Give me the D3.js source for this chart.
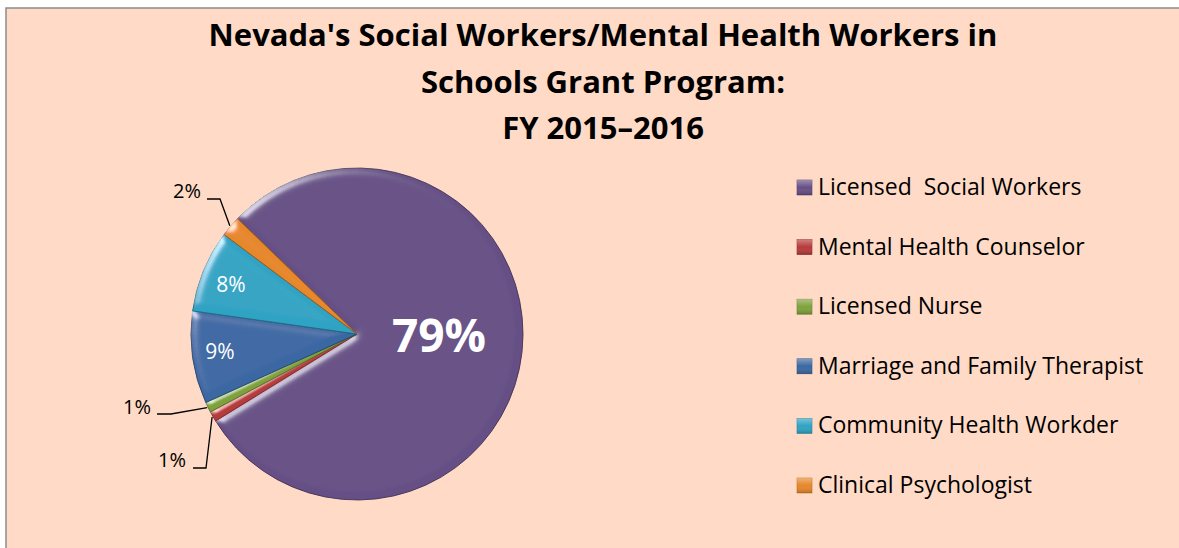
<!DOCTYPE html>
<html>
<head>
<meta charset="utf-8">
<script src="https://cdn.jsdelivr.net/npm/d3@7"></script>
<style>
  body { margin: 0; background: #fff; }
  svg { display: block; }
  text { font-family: "Open Sans", Lato, sans-serif; }
</style>
</head>
<body>
<svg id="viz" width="1179" height="548"></svg>
<script>
// chart data
const categories = ['Licensed  Social Workers', 'Mental Health Counselor', 'Licensed Nurse',
  'Marriage and Family Therapist', 'Community Health Workder', 'Clinical Psychologist']
const values = [79, 1, 1, 9, 8, 2]
const sliceColors = ['#664f85', '#b63a3a', '#7ea23b', '#3b67a2', '#2fa3c3', '#e6872a']
const titleLines = ["Nevada's Social Workers/Mental Health Workers in", 'Schools Grant Program:', 'FY 2015\u20132016']

const svg = d3.select('#viz')

// bevel filter, looks a bit like the office 3d edge
let defs = svg.append('defs')
let bev = defs.append('filter').attr('id', 'bevel').attr('x', '-5%').attr('y', '-5%').attr('width', '110%').attr('height', '110%')
bev.append('feGaussianBlur').attr('in', 'SourceAlpha').attr('stdDeviation', 4).attr('result', 'blur')
let spec = bev.append('feSpecularLighting').attr('in', 'blur').attr('surfaceScale', 3)
  .attr('specularConstant', 0.7).attr('specularExponent', 40).attr('lighting-color', '#ffffff').attr('result', 'spec')
spec.append('feDistantLight').attr('azimuth', 225).attr('elevation', 40)
bev.append('feComposite').attr('in', 'spec').attr('in2', 'SourceAlpha').attr('operator', 'in').attr('result', 'specIn')
bev.append('feComposite').attr('in', 'SourceGraphic').attr('in2', 'specIn')
  .attr('operator', 'arithmetic').attr('k1', 0).attr('k2', 1).attr('k3', 0.8).attr('k4', 0)

let legShade = defs.append('linearGradient').attr('id', 'legShade').attr('x1', 0).attr('y1', 0).attr('x2', 0).attr('y2', 1)
legShade.append('stop').attr('offset', '0%').attr('stop-color', '#fff').attr('stop-opacity', 0.35)
legShade.append('stop').attr('offset', '50%').attr('stop-color', '#fff').attr('stop-opacity', 0)
legShade.append('stop').attr('offset', '100%').attr('stop-color', '#000').attr('stop-opacity', 0.2)

// chart area background + border
svg.append('rect')
  .attr('x', 6).attr('y', 8).attr('width', 1190).attr('height', 560)
  .style('fill', '#ffdac6').style('stroke', '#8c8c8c').style('stroke-width', 1.5)

// title
let title = svg.append('text')
  .attr('text-anchor', 'middle')
  .style('font-size', '31px').style('font-weight', 'bold').style('fill', '#000')
title.selectAll('tspan')
  .data(titleLines)
  .enter()
  .append('tspan')
  .attr('x', 603)
  .attr('y', (d, i) => 46 + i * 46.5)
  .text(d => d)

// pie
const cx = 357, cy = 334, radius = 166
const color = d3.scaleOrdinal().domain(categories).range(sliceColors)
const startA = -46 * Math.PI / 180
const pie = d3.pie().sort(null).value(d => d.value)
  .startAngle(startA).endAngle(startA + 2 * Math.PI)
const arc = d3.arc().innerRadius(0).outerRadius(radius)

let data = categories.map((c, i) => ({ name: c, value: values[i] }))
let arcs = pie(data)

let pieGroup = svg.append('g').attr('transform', `translate(${cx},${cy})`)
pieGroup.selectAll('path.slice')
  .data(arcs)
  .enter()
  .append('path')
  .attr('class', 'slice')
  .attr('d', arc)
  .style('fill', d => color(d.data.name))
  .style('stroke', d => d3.color(color(d.data.name)).darker(1.2))
  .style('stroke-width', 0.9)
  .attr('filter', 'url(#bevel)')

// labels inside the slices (white)
const insideLabels = [
  { i: 0, x: 439, y: 352, size: 46, bold: true },
  { i: 3, x: 220, y: 359, size: 21, bold: false },
  { i: 4, x: 231, y: 292, size: 21, bold: false }
]
svg.selectAll('.inLabel')
  .data(insideLabels)
  .enter()
  .append('text')
  .attr('class', 'inLabel')
  .attr('x', d => d.x).attr('y', d => d.y)
  .attr('text-anchor', 'middle')
  .style('fill', '#fff')
  .style('font-size', d => d.size + 'px')
  .style('font-weight', d => d.bold ? 'bold' : 'normal')
  .text(d => values[d.i] + '%')

// small slices, labels outside with leader lines
const outsideLabels = [
  { i: 5, tx: 187, ty: 198, line: [[207, 199], [220, 199]] },
  { i: 2, tx: 137, ty: 414, line: [[157, 414], [171, 414]] },
  { i: 1, tx: 172, ty: 467, line: [[193, 468], [206, 468]] }
]
svg.selectAll('.outLabel')
  .data(outsideLabels)
  .enter()
  .append('text')
  .attr('class', 'outLabel')
  .attr('x', d => d.tx).attr('y', d => d.ty)
  .attr('text-anchor', 'middle')
  .style('font-size', '20px').style('fill', '#000')
  .text(d => values[d.i] + '%')

const rimArc = d3.arc().innerRadius(radius + 1).outerRadius(radius + 1)
svg.selectAll('.leader')
  .data(outsideLabels)
  .enter()
  .append('path')
  .attr('class', 'leader')
  .attr('d', d => {
    let p = rimArc.centroid(arcs[d.i])
    let pts = d.line.concat([[p[0] + cx, p[1] + cy]])
    return d3.line()(pts)
  })
  .style('fill', 'none').style('stroke', '#000').style('stroke-width', 1.3)

// legend
let legend = svg.append('g').attr('transform', 'translate(797,0)')
let items = legend.selectAll('g.item')
  .data(categories)
  .enter()
  .append('g')
  .attr('class', 'item')
  .attr('transform', (d, i) => `translate(0,${187 + i * 59.6})`)
items.append('rect')
  .attr('x', 0).attr('y', -7).attr('width', 15).attr('height', 15)
  .style('fill', d => color(d))
  .style('stroke', d => d3.color(color(d)).darker(0.5)).style('stroke-width', 0.6)
items.append('rect')
  .attr('x', 0).attr('y', -7).attr('width', 15).attr('height', 15)
  .style('fill', 'url(#legShade)')
items.append('text')
  .attr('x', 21).attr('y', 8)
  .style('font-size', '23px').style('fill', '#000').style('white-space', 'pre')
  .text(d => d)
</script>
</body>
</html>
